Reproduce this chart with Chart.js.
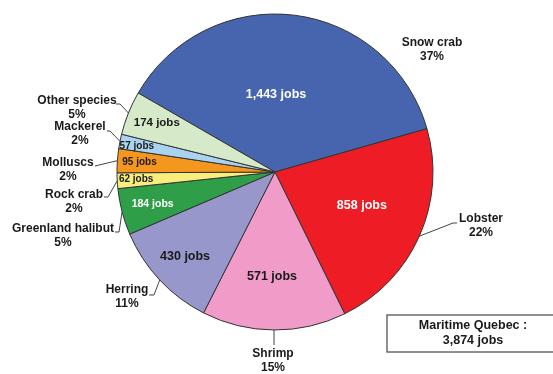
<!DOCTYPE html>
<html>
<head>
<meta charset="utf-8">
<script src="https://cdn.jsdelivr.net/npm/chart.js@4/dist/chart.umd.min.js"></script>
<style>
  html, body { margin: 0; padding: 0; background: #ffffff; }
  #wrap { width: 553px; height: 374px; position: relative; }
</style>
</head>
<body>
<div id="wrap"><canvas id="c" width="553" height="374"></canvas></div>
<script>
// Fishing jobs by species, Maritime Quebec
const species = ['Snow crab', 'Lobster', 'Shrimp', 'Herring', 'Greenland halibut',
                 'Rock crab', 'Molluscs', 'Mackerel', 'Other species'];
const jobs = [1443, 858, 571, 430, 184, 62, 95, 57, 174];
const shareLabels = ['37%', '22%', '15%', '11%', '5%', '2%', '2%', '2%', '5%'];
const totalLabel = ['Maritime Quebec :', '3,874 jobs'];

const sliceColors = ['#4765af', '#ee1c25', '#f19bc8', '#9797cb', '#2f9e48',
                     '#f7ee7b', '#f5971f', '#a9d3ef', '#d6e9c8'];

// In-slice labels: radius fraction, angle nudge (deg), font size, colour
const innerStyle = [
  { rf: 0.49, da: -6.3, size: 12.5, color: '#ffffff' },
  { rf: 0.59, da: -2.7, size: 12.5, color: '#ffffff' },
  { rf: 0.66, da: 1.3,  size: 12.5, color: '#1a1a1a' },
  { rf: 0.78, da: 0,    size: 12.5, color: '#1a1a1a' },
  { rf: 0.80, da: 0,    size: 10.5, color: '#ffffff' },
  { rf: 0.88, da: 0,    size: 10,   color: '#1a1a1a' },
  { rf: 0.86, da: 0,    size: 10,   color: '#1a1a1a' },
  { rf: 0.89, da: -0.5, size: 10,   color: '#1a1a1a' },
  { rf: 0.81, da: 0.6,  size: 11.5, color: '#1a1a1a' }
];

// Category labels outside the pie: text centre and leader path (elbow, end)
const outerStyle = [
  { x: 432, y: 43,  leader: null },
  { x: 481, y: 219, leader: [[453, 223], [457, 223]] },
  { x: 273, y: 354, leader: [[274, 345]] },
  { x: 127, y: 290, leader: [[154, 295], [149, 295]] },
  { x: 63,  y: 229, leader: [[119, 232], [115, 232]] },
  { x: 74,  y: 195, leader: [[108, 197], [104, 197]] },
  { x: 68,  y: 163, leader: [[95, 166]] },
  { x: 80,  y: 127, leader: [[110, 131], [107, 131]] },
  { x: 77,  y: 101, leader: [[120, 104], [116, 104]] }
];

const FONT = '"Liberation Sans", Arial, sans-serif';

const labelPlugin = {
  id: 'sliceLabels',
  afterDatasetsDraw(chart) {
    const ctx = chart.ctx;
    const meta = chart.getDatasetMeta(0);
    ctx.save();
    meta.data.forEach((arc, i) => {
      const p = arc.getProps(['x', 'y', 'startAngle', 'endAngle', 'outerRadius'], true);
      const mid = (p.startAngle + p.endAngle) / 2;
      // inside label
      const st = innerStyle[i];
      const a = mid + st.da * Math.PI / 180;
      const r = p.outerRadius * st.rf;
      ctx.font = 'bold ' + st.size + 'px ' + FONT;
      ctx.fillStyle = st.color;
      ctx.textAlign = 'center';
      ctx.textBaseline = 'middle';
      ctx.fillText(jobs[i].toLocaleString('en-US') + ' jobs', p.x + Math.cos(a) * r, p.y + Math.sin(a) * r);

      // outside label + leader
      const o = outerStyle[i];
      if (o.leader) {
        ctx.strokeStyle = '#444444';
        ctx.lineWidth = 1;
        ctx.beginPath();
        ctx.moveTo(p.x + Math.cos(mid) * p.outerRadius, p.y + Math.sin(mid) * p.outerRadius);
        o.leader.forEach(pt => ctx.lineTo(pt[0], pt[1]));
        ctx.stroke();
      }
      ctx.font = 'bold 12px ' + FONT;
      ctx.fillStyle = '#1a1a1a';
      ctx.fillText(species[i], o.x, o.y);
      ctx.fillText(shareLabels[i], o.x, o.y + 14);
    });

    // total box
    ctx.strokeStyle = '#555555';
    ctx.lineWidth = 1.3;
    ctx.fillStyle = '#ffffff';
    ctx.fillRect(387, 315, 170, 37);
    ctx.strokeRect(387, 315, 170, 37);
    ctx.font = 'bold 12.5px ' + FONT;
    ctx.fillStyle = '#1a1a1a';
    ctx.fillText(totalLabel[0], 473, 325.5);
    ctx.fillText(totalLabel[1], 473, 340.5);
    ctx.restore();
  }
};

new Chart(document.getElementById('c'), {
  type: 'pie',
  data: {
    labels: species,
    datasets: [{
      data: jobs,
      backgroundColor: sliceColors,
      borderColor: '#333333',
      borderWidth: 1,
      hoverOffset: 0
    }]
  },
  options: {
    responsive: false,
    animation: false,
    rotation: -60,
    layout: { padding: { left: 116.5, right: 119.5, top: 13.5, bottom: 43.5 } },
    plugins: {
      legend: { display: false },
      tooltip: { enabled: false }
    },
    events: []
  },
  plugins: [labelPlugin]
});
</script>
</body>
</html>
